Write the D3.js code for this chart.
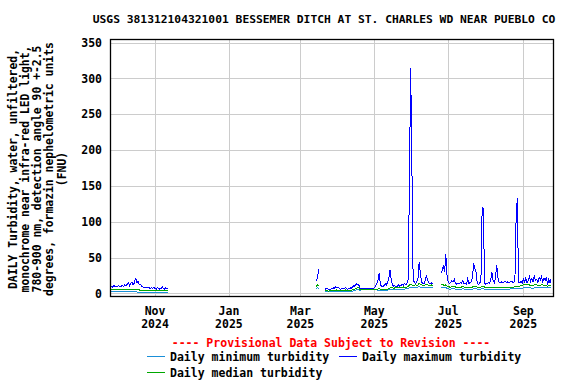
<!DOCTYPE html>
<html><head><meta charset="utf-8">
<script src="https://cdn.jsdelivr.net/npm/d3@7"></script>
<style>
html,body{margin:0;padding:0;background:#fff;}
svg{display:block;}
text{font-family:"DejaVu Sans Mono",monospace;font-weight:bold;}
</style></head>
<body><svg id="c" width="576" height="384"></svg>
<script>
// ---------------- DATA ----------------
const title = "USGS 381312104321001 BESSEMER DITCH AT ST. CHARLES WD NEAR PUEBLO CO";
const yLabelLines = [
  "DAILY Turbidity, water, unfiltered,",
  "monochrome near infra-red LED light,",
  "780-900 nm, detection angle 90 +-2.5",
  "degrees, formazin nephelometric units",
  "(FNU)"
];
const yTicks = [0, 50, 100, 150, 200, 250, 300, 350];
const xTickDates = ["2024-11-01", "2025-01-01", "2025-03-01", "2025-05-01", "2025-07-01", "2025-09-01"];
const xTickMonths = ["Nov", "Jan", "Mar", "May", "Jul", "Sep"];
const xTickYears = ["2024", "2025", "2025", "2025", "2025", "2025"];
const seriesNames = ["Daily minimum turbidity", "Daily maximum turbidity", "Daily median turbidity"];
const provisional = "---- Provisional Data Subject to Revision ----";

// daily segments (start date, then one value per day)
const segStarts = ["2024-09-26", "2025-03-14", "2025-03-21", "2025-06-25"];

const maxA = [10,9,11,10,9,10,11,9,10,11, 10,12,11,13,15,11,14,16,12,15, 22,15,17,12,13,10,9,8,9,8, 9,8,7,8,7,9,7,6,8,7, 6,7,9,7,6,8,7,6];
const medA = [5,5,6,5,5,5,6,5,5,5, 5,6,5,6,6,5,6,6,5,6, 6,5,5,5,4,4,4,4,4,4, 4,4,4,4,4,4,4,4,4,4, 4,4,4,4,4,4,4,4];
const minA = [3,3,3,2,3,3,3,3,2,3, 3,3,3,3,3,3,3,3,3,3, 3,2,2,2,1,1,1,1,1,1, 1,1,2,2,2,1,1,1,2,2, 2,2,2,2,2,2,2,2];

const maxM = [17,21,34];
const medM = [10,12,11];
const minM = [7,8,7];

const maxB = [7,6,7,6,5,6,7,8,7,9, 8,9,7,6,7,7,6,8,7,6, 7,8,7,9,11,10,14,12,13,8, 7,7,7,7,7,7,7,7,7,7,
  7,8,10,14,18,28,12,10,9,11, 14,12,16,22,33,18,12,10,11,9, 10,12,10,11,13,12,14,12,15,20,
  163,315,180,22,15,14,16,20,44,28, 16,14,13,18,25,18,15,14,15,13];
const medB = [4,4,4,3,4,4,4,5,4,4, 5,4,4,4,4,4,4,5,4,4, 4,5,4,5,6,6,7,8,8,6, 6,6,6,6,6,6,6,6,6,6,
  6,6,6,6,6,7,6,6,6,6, 6,6,6,7,8,8,8,7,8,8, 8,8,8,8,8,9,8,9,9,10,
  12,13,12,11,11,12,11,12,14,13, 12,11,11,12,13,12,11,11,12,11];
const minB = [3,3,3,2,3,3,3,3,3,3, 3,3,3,3,3,3,3,3,3,3, 3,3,3,3,4,4,5,5,5,4, 5,5,5,5,5,5,5,5,5,5,
  5,5,5,5,4,4,4,4,4,4, 4,4,5,5,5,5,5,5,6,6, 6,6,6,6,6,6,6,7,7,7,
  8,9,9,8,8,8,8,9,10,9, 9,8,8,8,9,9,8,8,9,8];

const maxC = [28,32,40,30,55,25,16,14,15,18, 16,20,14,13,14,13,15,14,18,13, 14,13,20,14,15,16,22,42,34,30,
  14,13,14,20,120,118,14,13,14,15, 14,18,30,18,15,22,40,22,16,15, 16,15,16,17,15,16,15,16,17,16,
  15,17,103,133,16,15,17,14,20,16, 22,15,18,24,17,21,16,25,18,20, 15,22,19,24,16,21,18,23,12,20, 15,21];
const medC = [12,13,12,11,12,10,10,9,9,10, 10,10,9,9,9,9,9,9,10,9, 9,9,9,9,9,9,9,10,10,10,
  9,9,9,9,10,10,9,8,8,8, 8,8,9,9,8,9,9,9,8,8, 8,8,8,8,8,9,9,9,9,9,
  9,10,10,10,10,10,11,11,12,12, 13,13,12,12,11,11,11,12,12,12, 11,11,11,12,12,11,11,11,10,11, 11,11];
const minC = [9,8,9,8,9,7,7,6,6,7, 7,7,6,6,6,6,6,6,7,6, 6,6,6,6,6,6,6,7,7,7,
  6,6,6,6,7,7,6,6,6,6, 6,6,6,6,6,6,6,6,6,6, 6,6,6,6,6,6,6,6,7,7,
  7,7,7,7,7,7,7,7,8,8, 8,8,8,8,8,7,7,8,8,8, 8,8,8,8,8,8,8,8,8,8, 8,8];

const colors = {min: "#1a8fd8", max: "#0000ff", med: "#00a800"};

// ---------------- CHART ----------------
const svg = d3.select("#c");
const parse = d3.timeParse("%Y-%m-%d");
const L = 110.5, R = 553.5, T = 39.5, B = 296.5;

const x = d3.scaleTime()
  .domain([new Date(2024, 8, 25, 2), new Date(2025, 8, 26, 7)])
  .range([110.3, 554]);
const y = d3.scaleLinear().domain([-4.9, 354.9]).range([297, 39]);

function buildSeries(segs) {
  const pts = [];
  segs.forEach((vals, si) => {
    const s = parse(segStarts[si]);
    vals.forEach((v, i) => pts.push({d: d3.timeDay.offset(s, i), v: v}));
    pts.push({d: null, v: null});
  });
  return pts;
}
const sMin = buildSeries([minA, minM, minB, minC]);
const sMax = buildSeries([maxA, maxM, maxB, maxC]);
const sMed = buildSeries([medA, medM, medB, medC]);

// grid
const g = svg.append("g");
g.selectAll("line.hy").data(yTicks).join("line")
  .attr("x1", L).attr("x2", R)
  .attr("y1", d => Math.round(y(d)) + 0.5).attr("y2", d => Math.round(y(d)) + 0.5)
  .attr("stroke", "#cccccc").attr("stroke-width", 1);
g.selectAll("line.vx").data(xTickDates).join("line")
  .attr("y1", T).attr("y2", B)
  .attr("x1", d => Math.round(x(parse(d))) + 0.5).attr("x2", d => Math.round(x(parse(d))) + 0.5)
  .attr("stroke", "#cccccc").attr("stroke-width", 1);

// data lines
const line = d3.line().defined(p => p.v !== null)
  .x(p => x(p.d)).y(p => y(p.v));
[[sMin, colors.min], [sMed, colors.med], [sMax, colors.max]].forEach(([s, c]) => {
  svg.append("path").datum(s).attr("d", line)
    .attr("fill", "none").attr("stroke", c).attr("stroke-width", 1)
    .attr("shape-rendering", "crispEdges");
});

// frame
svg.append("rect").attr("x", L).attr("y", T).attr("width", R - L).attr("height", B - T)
  .attr("fill", "none").attr("stroke", "#000").attr("stroke-width", 1.3);

// y tick labels
svg.selectAll("text.yt").data(yTicks).join("text")
  .attr("x", 102).attr("y", d => y(d)).attr("dy", "0.36em")
  .attr("text-anchor", "end").attr("font-size", "11.5px").text(d => d);

// x tick labels
const xt = svg.selectAll("g.xt").data(xTickDates).join("g")
  .attr("transform", d => `translate(${x(parse(d))},0)`);
xt.append("text").attr("y", 315).attr("text-anchor", "middle").attr("font-size", "11.5px")
  .text((d, i) => xTickMonths[i]);
xt.append("text").attr("y", 328).attr("text-anchor", "middle").attr("font-size", "11.5px")
  .text((d, i) => xTickYears[i]);

// title
svg.append("text").attr("x", 324).attr("y", 23).attr("text-anchor", "middle")
  .attr("font-size", "11.3px").text(title);

// y label
const yl = svg.append("text").attr("transform", "translate(0,169) rotate(-90)")
  .attr("text-anchor", "middle").attr("font-size", "11.4px");
const lineX = [17, 29, 41, 53, 66];
yLabelLines.forEach((t, i) => {
  yl.append("tspan").attr("x", 0).attr("y", lineX[i]).text(t);
});

// provisional
svg.append("text").attr("x", 331).attr("y", 347).attr("text-anchor", "middle")
  .attr("font-size", "11.5px").attr("fill", "#ff0000").text(provisional);

// legend
const legendItems = [
  {name: seriesNames[0], c: colors.min, lx: 147, ly: 356.5},
  {name: seriesNames[1], c: colors.max, lx: 339, ly: 356.5},
  {name: seriesNames[2], c: colors.med, lx: 147, ly: 372.5}
];
legendItems.forEach(it => {
  svg.append("line").attr("x1", it.lx).attr("x2", it.lx + 18)
    .attr("y1", it.ly).attr("y2", it.ly).attr("stroke", it.c).attr("stroke-width", 1);
  svg.append("text").attr("x", it.lx + 23).attr("y", it.ly + 4)
    .attr("font-size", "11.5px").text(it.name);
});
</script></body></html>
